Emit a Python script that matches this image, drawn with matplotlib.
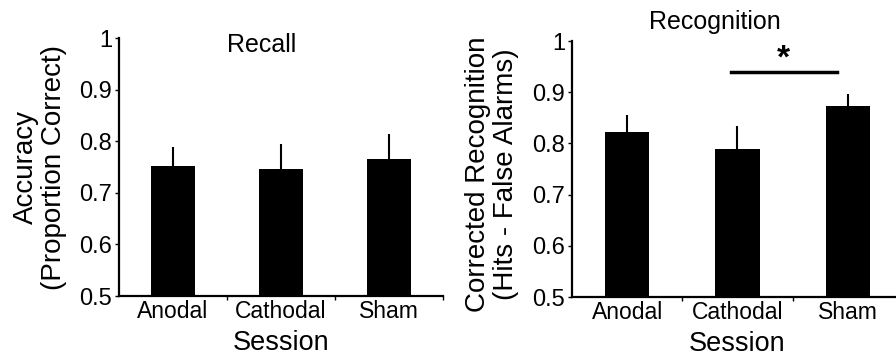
import matplotlib.pyplot as plt
import numpy as np

plt.rcParams['font.family'] = ['Liberation Sans', 'DejaVu Sans']

sessions = ['Anodal', 'Cathodal', 'Sham']
recall_mean = [0.752, 0.746, 0.765]
recall_upper = [0.789, 0.795, 0.814]
recog_mean = [0.822, 0.789, 0.873]
recog_upper = [0.855, 0.834, 0.897]
yticks = [0.5, 0.6, 0.7, 0.8, 0.9, 1.0]
ytick_labels = ['0.5', '0.6', '0.7', '0.8', '0.9', '1']


def draw_panel(ax, means, upper, ylabel):
    x = np.arange(len(sessions))
    ax.bar(x, np.array(means) - 0.5, bottom=0.5, width=0.4, color='black', zorder=2)
    err = np.array(upper) - np.array(means)
    ax.errorbar(x, means, yerr=[np.zeros_like(err), err], fmt='none',
                ecolor='black', elinewidth=1.5, capsize=0, zorder=1)
    ax.set_xlim(-0.5, 2.5)
    ax.set_ylim(0.5, 1.0)
    ax.set_yticks(yticks)
    ax.set_yticklabels(ytick_labels, fontsize=17)
    ax.set_xticks(x)
    ax.set_xticklabels(sessions, fontsize=16.5)
    # small tick marks between the categories
    ax.set_xticks([0.5, 1.5, 2.5], minor=True)
    ax.tick_params(axis='x', which='major', length=0, pad=3)
    ax.tick_params(axis='x', which='minor', length=3, width=1, direction='out')
    ax.tick_params(axis='y', length=3, width=1, direction='out', pad=2)
    for s in ['top', 'right']:
        ax.spines[s].set_visible(False)
    for s in ['left', 'bottom']:
        ax.spines[s].set_linewidth(1.6)
    ax.set_xlabel('Session', fontsize=19.5, labelpad=5)
    ax.set_ylabel(ylabel, fontsize=20, linespacing=1.12)


fig = plt.figure(figsize=(8.96, 3.56), dpi=100)
ax1 = fig.add_axes([0.1328, 0.1685, 0.3616, 0.7247])
ax2 = fig.add_axes([0.6384, 0.1657, 0.3694, 0.7191])

draw_panel(ax1, recall_mean, recall_upper, 'Accuracy\n(Proportion Correct)')
draw_panel(ax2, recog_mean, recog_upper, 'Corrected Recognition\n(Hits - False Alarms)')

ax1.yaxis.set_label_coords(-0.16, 0.5)
ax2.yaxis.set_label_coords(-0.16, 0.48)

ax1.text(0.441, 0.973, 'Recall', transform=ax1.transAxes, ha='center', va='center', fontsize=18)
ax2.text(0.432, 1.075, 'Recognition', transform=ax2.transAxes, ha='center', va='center',
         fontsize=18, clip_on=False)

# significance bar between Cathodal and Sham
ax2.plot([0.945, 1.9], [0.939, 0.939], color='black', lw=2.5, clip_on=False)
ax2.text(1.42, 0.965, '*', ha='center', va='center', fontsize=24, fontweight='bold')

fig.savefig('out.png', dpi=100)
